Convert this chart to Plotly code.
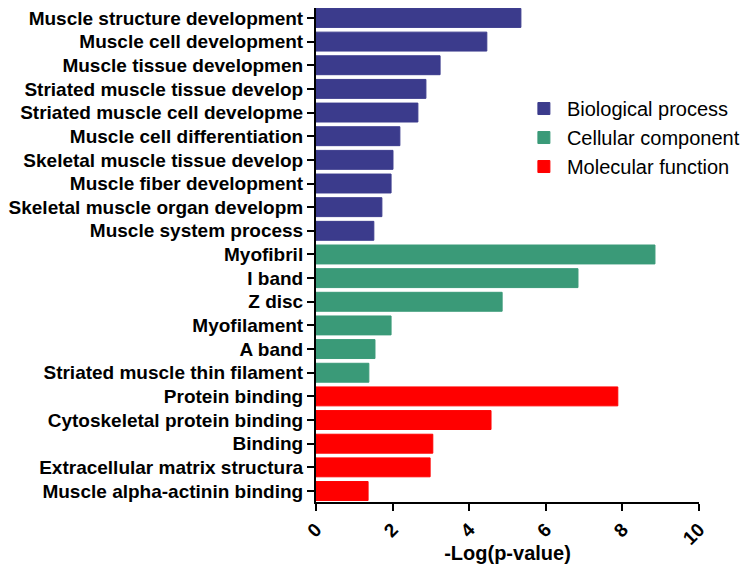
import plotly.graph_objects as go

# GO terms, top to bottom
bio_terms = [
    "Muscle structure development",
    "Muscle cell development",
    "Muscle tissue developmen",
    "Striated muscle tissue develop",
    "Striated muscle cell developme",
    "Muscle cell differentiation",
    "Skeletal muscle tissue develop",
    "Muscle fiber development",
    "Skeletal muscle organ developm",
    "Muscle system process",
]
bio_vals = [5.35, 4.46, 3.24, 2.87, 2.66, 2.19, 2.01, 1.96, 1.72, 1.51]

cell_terms = [
    "Myofibril",
    "I band",
    "Z disc",
    "Myofilament",
    "A band",
    "Striated muscle thin filament",
]
cell_vals = [8.85, 6.84, 4.86, 1.96, 1.54, 1.38]

mol_terms = [
    "Protein binding",
    "Cytoskeletal protein binding",
    "Binding",
    "Extracellular matrix structura",
    "Muscle alpha-actinin binding",
]
mol_vals = [7.88, 4.57, 3.05, 2.98, 1.36]

x_ticks = [0, 2, 4, 6, 8, 10]

groups = [
    ("Biological process", bio_terms, bio_vals, "#3b3b8c"),
    ("Cellular component", cell_terms, cell_vals, "#3a9a78"),
    ("Molecular function", mol_terms, mol_vals, "#ff0000"),
]

fig = go.Figure()
for name, terms, vals, color in groups:
    fig.add_trace(go.Bar(
        x=vals, y=terms, orientation="h", name=name, legendgroup=name,
        marker=dict(color=color, line=dict(color=color, width=1)),
        width=0.8,
    ))

order = bio_terms + cell_terms + mol_terms

# page body has an 8px margin, so the figure is a bit smaller than the window
fig.update_layout(
    width=748, height=556,
    margin=dict(l=308, r=57, t=0, b=62),
    plot_bgcolor="white", paper_bgcolor="white",
    showlegend=True,
    barmode="overlay",
    font=dict(family="Liberation Sans, Arial", color="black"),
    legend=dict(
        x=0.535, y=0.836, xanchor="left", yanchor="top",
        font=dict(size=20, color="black"),
        bgcolor="rgba(0,0,0,0)",
        tracegroupgap=0,
        itemwidth=36,
    ),
)
fig.update_yaxes(
    categoryorder="array", categoryarray=order[::-1],
    range=[-0.465, 20.42],
    automargin=False,
    showline=True, linecolor="black", linewidth=2,
    ticks="outside", ticklen=7, tickwidth=2, tickcolor="black",
    tickfont=dict(size=19, weight="bold"),
    showgrid=False, zeroline=False,
)
fig.update_xaxes(
    range=[0, 10], tickvals=x_ticks,
    tickangle=-45,
    automargin=False,
    showline=True, linecolor="black", linewidth=2,
    ticks="outside", ticklen=7, tickwidth=2, tickcolor="black",
    tickfont=dict(size=19, weight="bold"),
    showgrid=False, zeroline=False,
    title=dict(text="-Log(p-value)", font=dict(size=20, weight="bold"), standoff=0),
)

fig.write_html("out.html")
